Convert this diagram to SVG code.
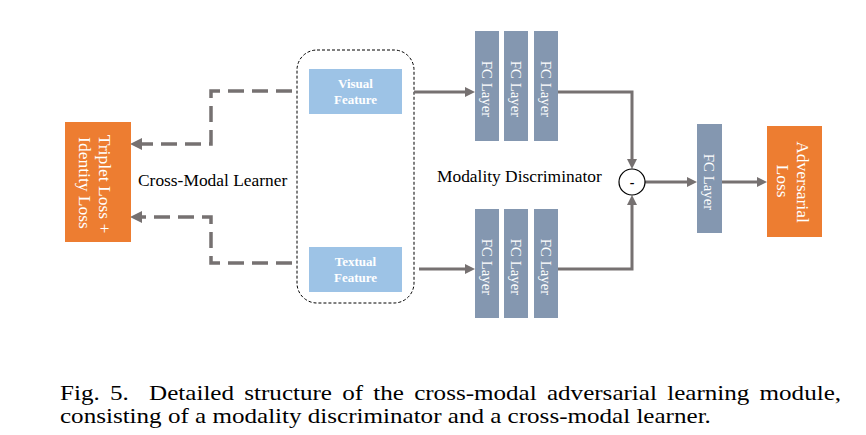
<svg xmlns="http://www.w3.org/2000/svg" width="866" height="435" viewBox="0 0 866 435">
<style>
.orange{fill:#ED7D31}
.blue{fill:#9DC3E6}
.fc{fill:#8497B0}
.wt{fill:#ffffff;font-family:"Liberation Serif","Times New Roman",serif}
.lbl{fill:#000000;font-family:"Liberation Serif","Times New Roman",serif}
.solid{fill:none;stroke:#767171;stroke-width:3}
.dash{fill:none;stroke:#767171;stroke-width:3.5;stroke-dasharray:16 8}
</style>
<defs>
<marker id="ah" viewBox="0 0 10 10" refX="4" refY="5" markerWidth="10" markerHeight="10" markerUnits="userSpaceOnUse" orient="auto">
<path d="M0,0 L10,5 L0,10 z" fill="#767171"/>
</marker>
<marker id="ahd" viewBox="0 0 12 12" refX="4" refY="6" markerWidth="12" markerHeight="12" markerUnits="userSpaceOnUse" orient="auto">
<path d="M0,0 L12,6 L0,12 z" fill="#767171"/>
</marker>
</defs>
<rect width="866" height="435" fill="#ffffff"/>

<g id="learner-box">
<rect x="297" y="50" width="117" height="253" rx="20" ry="20" fill="none" stroke="#000" stroke-width="1" stroke-dasharray="3 2"/>
</g>

<g id="connectors">
<path class="dash" d="M292,91 H211 V144 H138" marker-end="url(#ahd)"/>
<path class="dash" d="M292,263 H211 V217 H138" marker-end="url(#ahd)"/>
<path class="solid" d="M414,92 H469" marker-end="url(#ah)"/>
<path class="solid" d="M419,269 H469" marker-end="url(#ah)"/>
<path class="solid" d="M558,92 H632 V163" marker-end="url(#ah)"/>
<path class="solid" d="M558,269 H632 V201" marker-end="url(#ah)"/>
<path class="solid" d="M645,182 H691" marker-end="url(#ah)"/>
<path class="solid" d="M722,182 H761" marker-end="url(#ah)"/>
</g>

<g id="triplet-loss">
<rect class="orange" x="65" y="122" width="66" height="120"/>
<text class="wt" font-size="17.5" text-anchor="middle" transform="translate(105,184) rotate(90)" dy="0.33em">Triplet Loss +</text>
<text class="wt" font-size="17.5" text-anchor="middle" transform="translate(85,183) rotate(90)" dy="0.33em">Identity Loss</text>
</g>

<g id="visual-feature">
<rect class="blue" x="309" y="69" width="93" height="45"/>
<text class="wt" font-size="13" font-weight="bold" text-anchor="middle" x="355.5" y="88">Visual</text>
<text class="wt" font-size="13" font-weight="bold" text-anchor="middle" x="355.5" y="104">Feature</text>
</g>

<g id="textual-feature">
<rect class="blue" x="309" y="247" width="93" height="45"/>
<text class="wt" font-size="13" font-weight="bold" text-anchor="middle" x="355.5" y="266">Textual</text>
<text class="wt" font-size="13" font-weight="bold" text-anchor="middle" x="355.5" y="282">Feature</text>
</g>

<g id="fc-top-1">
<rect class="fc" x="475" y="31" width="24" height="110"/>
<text class="wt" font-size="14.8" text-anchor="middle" transform="translate(487,89) rotate(90)" dy="0.33em">FC Layer</text>
</g>
<g id="fc-top-2">
<rect class="fc" x="504" y="31" width="24" height="110"/>
<text class="wt" font-size="14.8" text-anchor="middle" transform="translate(516,89) rotate(90)" dy="0.33em">FC Layer</text>
</g>
<g id="fc-top-3">
<rect class="fc" x="534" y="31" width="24" height="110"/>
<text class="wt" font-size="14.8" text-anchor="middle" transform="translate(546,89) rotate(90)" dy="0.33em">FC Layer</text>
</g>
<g id="fc-bot-1">
<rect class="fc" x="475" y="209" width="24" height="109"/>
<text class="wt" font-size="14.8" text-anchor="middle" transform="translate(487,267) rotate(90)" dy="0.33em">FC Layer</text>
</g>
<g id="fc-bot-2">
<rect class="fc" x="504" y="209" width="24" height="109"/>
<text class="wt" font-size="14.8" text-anchor="middle" transform="translate(516,267) rotate(90)" dy="0.33em">FC Layer</text>
</g>
<g id="fc-bot-3">
<rect class="fc" x="534" y="209" width="24" height="109"/>
<text class="wt" font-size="14.8" text-anchor="middle" transform="translate(546,267) rotate(90)" dy="0.33em">FC Layer</text>
</g>

<g id="minus">
<circle cx="632" cy="182" r="13" fill="#ffffff" stroke="#000" stroke-width="1.2"/>
<text class="lbl" font-size="14" font-weight="bold" text-anchor="middle" x="632" y="187">-</text>
</g>

<g id="fc-final">
<rect class="fc" x="697" y="124" width="25" height="109"/>
<text class="wt" font-size="14.8" text-anchor="middle" transform="translate(709,182) rotate(90)" dy="0.33em">FC Layer</text>
</g>

<g id="adversarial-loss">
<rect class="orange" x="767" y="126" width="55" height="111"/>
<text class="wt" font-size="17.5" text-anchor="middle" transform="translate(803,182) rotate(90)" dy="0.33em">Adversarial</text>
<text class="wt" font-size="17.5" text-anchor="middle" transform="translate(783,181) rotate(90)" dy="0.33em">Loss</text>
</g>

<g id="labels">
<text class="lbl" font-size="17.4" x="138" y="186">Cross-Modal Learner</text>
<text class="lbl" font-size="17.4" x="437" y="182">Modality Discriminator</text>
</g>

<g id="caption">
<text class="lbl" font-size="22" y="400" transform="scale(1.14 1)"><tspan x="52.63">Fig.</tspan><tspan x="96.4">5.</tspan><tspan x="130.8">Detailed</tspan><tspan x="214.3">structure</tspan><tspan x="300.3">of</tspan><tspan x="327.5">the</tspan><tspan x="363.3">cross-modal</tspan><tspan x="479.8">adversarial</tspan><tspan x="585.3">learning</tspan><tspan x="666.3">module,</tspan></text>
<text class="lbl" font-size="22" x="52.63" y="423" transform="scale(1.14 1)">consisting of a modality discriminator and a cross-modal learner.</text>
</g>
</svg>
